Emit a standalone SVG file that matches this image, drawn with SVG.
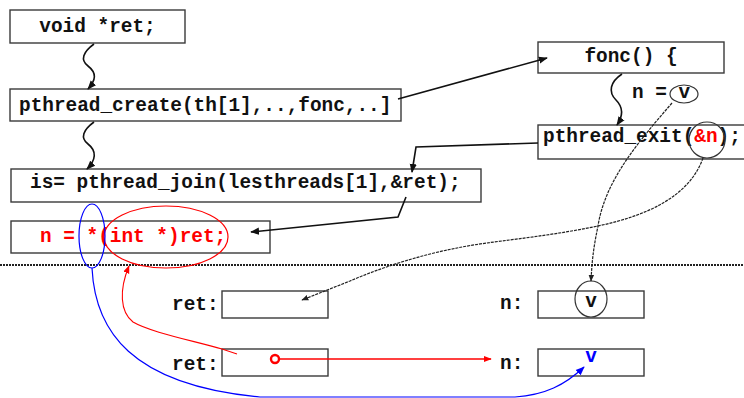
<svg xmlns="http://www.w3.org/2000/svg" width="744" height="398" viewBox="0 0 744 398">
  <defs>
    <style>
      .box { fill: #fff; stroke: #3a3a3a; stroke-width: 1.4; }
      .code { font-family: "Liberation Mono", "Courier New", monospace; font-weight: bold; font-size: 19.4px; fill: #111; }
      .red { fill: #f00; }
      .blue { fill: #00f; }
      .wire { fill: none; stroke: #111; stroke-width: 1.6; }
      .thin { fill: none; stroke: #222; stroke-width: 1.2; stroke-dasharray: 3 1; }
      .ring { fill: none; stroke: #333; stroke-width: 1.2; }
    </style>
    <marker id="ah" viewBox="0 0 10 10" refX="9" refY="5" markerWidth="9" markerHeight="9" markerUnits="userSpaceOnUse" orient="auto">
      <path d="M0,1 L10,5 L0,9 Z" fill="#111"/>
    </marker>
    <marker id="ahs" viewBox="0 0 10 10" refX="9" refY="5" markerWidth="7" markerHeight="7" markerUnits="userSpaceOnUse" orient="auto">
      <path d="M0,1 L10,5 L0,9 Z" fill="#222"/>
    </marker>
    <marker id="ahr" viewBox="0 0 10 10" refX="9" refY="5" markerWidth="8" markerHeight="8" markerUnits="userSpaceOnUse" orient="auto">
      <path d="M0,1 L10,5 L0,9 Z" fill="#f00"/>
    </marker>
    <marker id="ahb" viewBox="0 0 10 10" refX="9" refY="5" markerWidth="9" markerHeight="9" markerUnits="userSpaceOnUse" orient="auto">
      <path d="M0,1 L10,5 L0,9 Z" fill="#00f"/>
    </marker>
  </defs>

  <rect width="744" height="398" fill="#fff"/>

  <!-- thread-side code boxes -->
  <g id="decl">
    <rect class="box" x="10" y="10" width="175" height="33"/>
    <text class="code" x="97.5" y="32" text-anchor="middle">void *ret;</text>
  </g>
  <g id="create">
    <rect class="box" x="10" y="89" width="391" height="32"/>
    <text class="code" x="19" y="111">pthread_create(th[1],..,fonc,..]</text>
  </g>
  <g id="join">
    <rect class="box" x="11" y="169" width="470" height="33"/>
    <text class="code" x="30" y="188">is= pthread_join(lesthreads[1],&amp;ret);</text>
  </g>
  <g id="cast">
    <rect class="box" x="11" y="221" width="259" height="32"/>
    <text class="code red" x="40" y="242">n = *(int *)ret;</text>
  </g>
  <g id="fonc">
    <rect class="box" x="538" y="42" width="186" height="31"/>
    <text class="code" x="631" y="62" text-anchor="middle">fonc() {</text>
  </g>
  <g id="assign">
    <text class="code" x="632" y="98">n = v</text>
    <ellipse class="ring" cx="684" cy="94" rx="14" ry="9"/>
  </g>
  <g id="exit">
    <rect class="box" x="538" y="125" width="212" height="34"/>
    <text class="code" x="543" y="142">pthread_exit(<tspan class="red">&amp;n</tspan>);</text>
    <ellipse class="ring" cx="707" cy="140" rx="18" ry="18"/>
  </g>

  <!-- separator between code and memory -->
  <line x1="0" y1="265" x2="744" y2="265" stroke="#222" stroke-width="2.2" stroke-dasharray="2 1"/>

  <!-- memory cells -->
  <g id="ret1">
    <text class="code" x="172" y="310">ret:</text>
    <rect class="box" x="222" y="291" width="106" height="27"/>
  </g>
  <g id="n1">
    <text class="code" x="500" y="309">n:</text>
    <rect class="box" x="538" y="291" width="106" height="27"/>
    <text class="code" x="591" y="307" text-anchor="middle">v</text>
    <ellipse class="ring" cx="591" cy="299" rx="16" ry="18"/>
  </g>
  <g id="ret2">
    <text class="code" x="172" y="370">ret:</text>
    <rect class="box" x="222" y="349" width="106" height="27"/>
    <circle cx="275" cy="359" r="4" fill="none" stroke="#f00" stroke-width="2.4"/>
  </g>
  <g id="n2">
    <text class="code" x="500" y="369">n:</text>
    <rect class="box" x="538" y="349" width="106" height="27"/>
    <text class="code blue" x="591" y="362" text-anchor="middle">v</text>
  </g>

  <!-- highlight rings on the cast expression -->
  <ellipse cx="166" cy="237" rx="62" ry="31" fill="none" stroke="#f00" stroke-width="1.2"/>
  <ellipse cx="92" cy="236" rx="13" ry="32" fill="none" stroke="#00f" stroke-width="1.2"/>

  <!-- connectors -->
  <g id="connectors">
    <path class="wire" d="M94,44 C83,52 80,60 88,66 C97,73 96,80 88,89" marker-end="url(#ah)"/>
    <path class="wire" d="M94,122 C83,130 80,138 88,144 C97,151 96,160 87,169" marker-end="url(#ah)"/>
    <path class="wire" d="M622,74 C610,82 608,92 616,100 C624,108 623,116 617,125" marker-end="url(#ah)"/>
    <path class="wire" d="M398,99 L547,58" marker-end="url(#ah)"/>
    <path class="wire" d="M538,143 L416,147 L412,172" marker-end="url(#ah)"/>
    <path class="wire" d="M406,197 L398,217 L251,232" marker-end="url(#ah)"/>

    <path class="thin" d="M703,158 C690,195 650,215 598,226 C540,238 490,241 457,248 C420,255 380,268 350,281 L302,300" marker-end="url(#ahs)"/>
    <path class="thin" d="M672,103 C640,140 605,180 598,226 C593,250 592,262 591,281" marker-end="url(#ahs)"/>

    <path d="M279,359 L491,359" fill="none" stroke="#f00" stroke-width="1.6" marker-end="url(#ahr)"/>
    <path d="M237,354 L222,349 C190,340 150,332 133,322 C120,312 119,290 129,266" fill="none" stroke="#f00" stroke-width="1.1" marker-end="url(#ahr)"/>
    <path d="M92,268 C95,330 130,385 260,397 L515,397 C545,395 565,385 584,367" fill="none" stroke="#00f" stroke-width="1.2" marker-end="url(#ahb)"/>
  </g>
</svg>
